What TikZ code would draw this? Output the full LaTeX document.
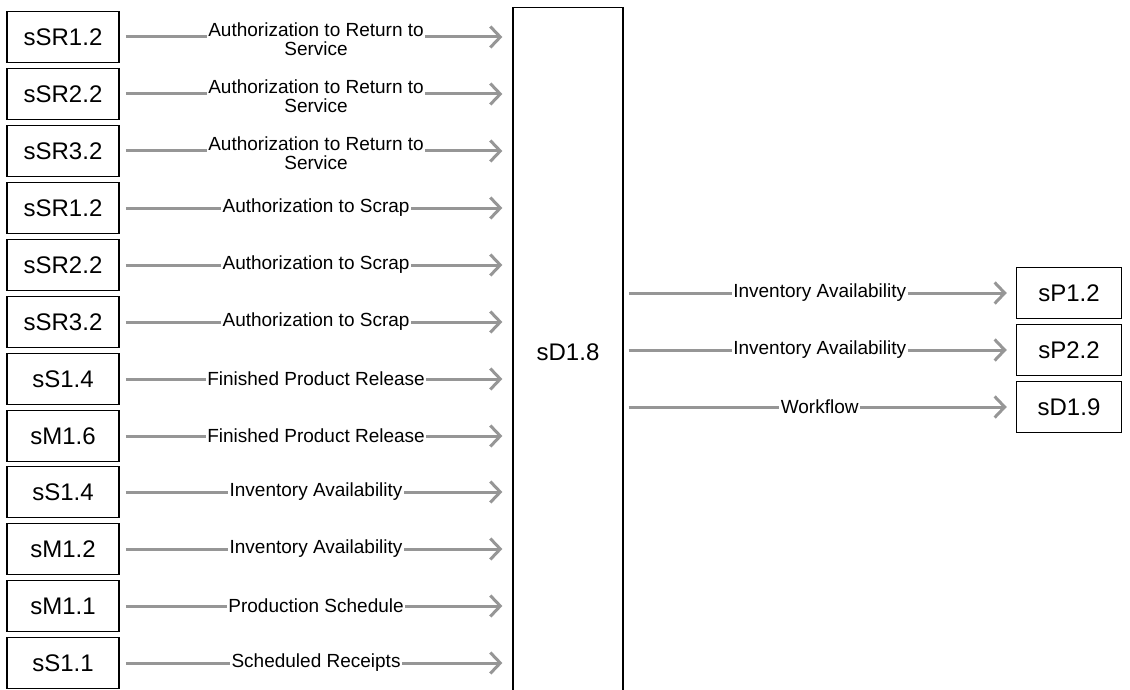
\documentclass[tikz,border=0pt]{standalone}
\usepackage{fontspec}
\setmainfont{Liberation Sans}
\usetikzlibrary{arrows.meta}

\tikzset{
  step box/.style={draw, line width=1.5pt, minimum width=112pt, minimum height=51pt,
    inner sep=0pt, font=\fontsize{24}{28}\selectfont},
  flow/.style={draw={rgb,255:red,150;green,150;blue,150}, line width=3pt,
    -{Straight Barb[length=10pt,width=21pt,line width=3pt]}},
  flow label/.style={fill=white, inner sep=1.5pt, align=center, text=black,
    font=\fontsize{19}{19}\selectfont}
}

\begin{document}
\begin{tikzpicture}[x=1pt,y=-1pt]
			\useasboundingbox (0,0) rectangle (1130,690);
			% inputs on the left
			\node[step box] (in1) at (63,37) {sSR1.2};
			\node[step box] (in2) at (63,94) {sSR2.2};
			\node[step box] (in3) at (63,151) {sSR3.2};
			\node[step box] (in4) at (63,208) {sSR1.2};
			\node[step box] (in5) at (63,265) {sSR2.2};
			\node[step box] (in6) at (63,322) {sSR3.2};
			\node[step box] (in7) at (63,379) {sS1.4};
			\node[step box] (in8) at (63,436) {sM1.6};
			\node[step box] (in9) at (63,492) {sS1.4};
			\node[step box] (in10) at (63,549) {sM1.2};
			\node[step box] (in11) at (63,606) {sM1.1};
			\node[step box] (in12) at (63,663) {sS1.1};
			% the process itself, running off the bottom
			\node[draw, line width=1.3pt, minimum width=110pt, minimum height=690pt, anchor=north,
			  font=\fontsize{24}{28}\selectfont] (sd18) at (568,7) {sD1.8};
			% outputs on the right
			\node[step box, minimum width=105pt] (out1) at (1069,293) {sP1.2};
			\node[step box, minimum width=105pt] (out2) at (1069,350) {sP2.2};
			\node[step box, minimum width=105pt] (out3) at (1069,407) {sD1.9};
			% incoming flows
			\draw[flow, shorten <=6pt, shorten >=10pt] (in1) -- (in1 -| sd18.west) node[midway, flow label, yshift=-2pt]{Authorization to Return to\\Service};
			\draw[flow, shorten <=6pt, shorten >=10pt] (in2) -- (in2 -| sd18.west) node[midway, flow label, yshift=-2pt]{Authorization to Return to\\Service};
			\draw[flow, shorten <=6pt, shorten >=10pt] (in3) -- (in3 -| sd18.west) node[midway, flow label, yshift=-2pt]{Authorization to Return to\\Service};
			\draw[flow, shorten <=6pt, shorten >=10pt] (in4) -- (in4 -| sd18.west) node[midway, flow label]{Authorization to Scrap};
			\draw[flow, shorten <=6pt, shorten >=10pt] (in5) -- (in5 -| sd18.west) node[midway, flow label]{Authorization to Scrap};
			\draw[flow, shorten <=6pt, shorten >=10pt] (in6) -- (in6 -| sd18.west) node[midway, flow label]{Authorization to Scrap};
			\draw[flow, shorten <=6pt, shorten >=10pt] (in7) -- (in7 -| sd18.west) node[midway, flow label]{Finished Product Release};
			\draw[flow, shorten <=6pt, shorten >=10pt] (in8) -- (in8 -| sd18.west) node[midway, flow label]{Finished Product Release};
			\draw[flow, shorten <=6pt, shorten >=10pt] (in9) -- (in9 -| sd18.west) node[midway, flow label]{Inventory Availability};
			\draw[flow, shorten <=6pt, shorten >=10pt] (in10) -- (in10 -| sd18.west) node[midway, flow label]{Inventory Availability};
			\draw[flow, shorten <=6pt, shorten >=10pt] (in11) -- (in11 -| sd18.west) node[midway, flow label]{Production Schedule};
			\draw[flow, shorten <=6pt, shorten >=10pt] (in12) -- (in12 -| sd18.west) node[midway, flow label]{Scheduled Receipts};
			% outgoing flows
			\draw[flow, shorten <=5pt, shorten >=9pt] (sd18.east |- out1) -- (out1) node[midway, flow label]{Inventory Availability};
			\draw[flow, shorten <=5pt, shorten >=9pt] (sd18.east |- out2) -- (out2) node[midway, flow label]{Inventory Availability};
			\draw[flow, shorten <=5pt, shorten >=9pt] (sd18.east |- out3) -- (out3) node[midway, flow label]{Workflow};
\end{tikzpicture}
\end{document}
